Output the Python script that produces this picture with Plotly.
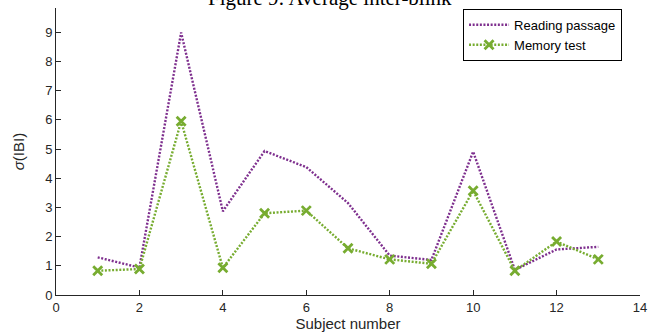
import plotly.graph_objects as go

subjects = [1, 2, 3, 4, 5, 6, 7, 8, 9, 10, 11, 12, 13]
reading_passage = [1.29, 0.94, 8.99, 2.87, 4.93, 4.38, 3.15, 1.35, 1.2, 4.91, 0.86, 1.56, 1.65]
memory_test = [0.83, 0.89, 5.95, 0.93, 2.8, 2.89, 1.6, 1.22, 1.07, 3.57, 0.83, 1.83, 1.22]
x_ticks = [0, 2, 4, 6, 8, 10, 12, 14]
y_ticks = [0, 1, 2, 3, 4, 5, 6, 7, 8, 9]

purple = "#7E2F8E"
green = "#77AC30"
axis_col = "#262626"
font_fam = "Liberation Sans, Arial, Helvetica, sans-serif"

fig = go.Figure()
fig.add_trace(go.Scatter(
    x=subjects, y=reading_passage, mode="lines", name="Reading passage",
    line=dict(color=purple, width=2.4, dash="2px,1.6px"),
))
fig.add_trace(go.Scatter(
    x=subjects, y=memory_test, mode="lines+markers", name="Memory test",
    line=dict(color=green, width=2.4, dash="2px,1.6px"),
    marker=dict(symbol="x-thin", size=9, color=green, line=dict(color=green, width=2.8)),
))

fig.update_layout(
    width=659, height=332,
    margin=dict(l=56, r=19, t=8, b=37),
    paper_bgcolor="white", plot_bgcolor="white",
    font=dict(family=font_fam, size=13, color=axis_col),
    showlegend=True,
    legend=dict(
        x=0.697, y=0.997, xanchor="left", yanchor="top",
        bordercolor="black", borderwidth=1, bgcolor="white",
        font=dict(size=13, color="black", family=font_fam),
        tracegroupgap=0, itemwidth=40,
    ),
    xaxis=dict(
        range=[0, 14], tickvals=x_ticks, ticks="inside", ticklen=5, tickwidth=1,
        tickcolor=axis_col, showline=True, linecolor=axis_col, linewidth=1,
        showgrid=False, zeroline=False, mirror=False, automargin=False,
        title=dict(text="Subject number", standoff=4, font=dict(size=15, color=axis_col)),
        tickfont=dict(size=13, color=axis_col),
    ),
    yaxis=dict(
        range=[0, 9.83], tickvals=y_ticks, ticks="inside", ticklen=5, tickwidth=1,
        tickcolor=axis_col, showline=True, linecolor=axis_col, linewidth=1,
        showgrid=False, zeroline=False, mirror=False, automargin=False,
        title=dict(text="<i>σ</i>(IBI)", standoff=16, font=dict(size=15, color=axis_col)),
        tickfont=dict(size=13, color=axis_col),
    ),
)

fig.add_annotation(
    text="Figure 9: Average inter-blink", xref="paper", yref="paper",
    x=0.47, y=1.0, xanchor="center", yanchor="bottom", yshift=-4,
    showarrow=False,
    font=dict(family="Liberation Serif, Times New Roman, serif", size=21, color="black"),
)

fig.write_html("out.html")
